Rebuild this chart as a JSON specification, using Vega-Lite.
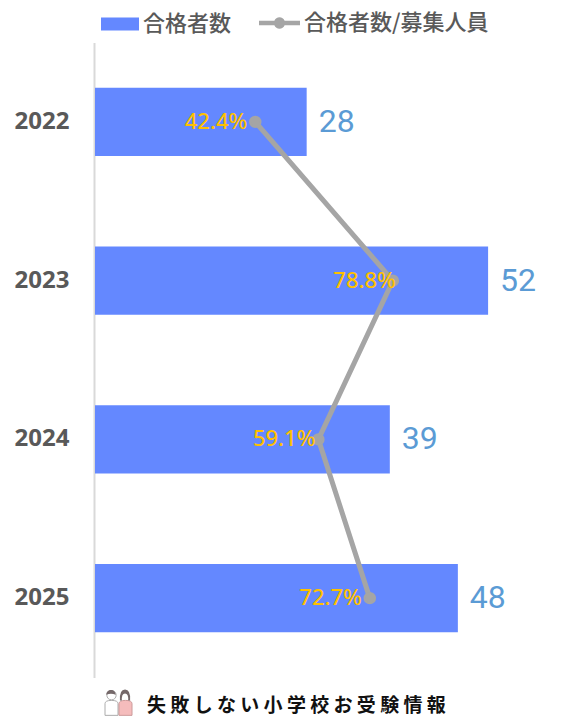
{
  "$schema": "https://vega.github.io/schema/vega-lite/v6.json",
  "width": 460,
  "height": 635,
  "autosize": {"type": "none"},
  "padding": {"left": 95, "top": 42.5, "right": 22, "bottom": 43.5},
  "background": "white",
  "config": {"view": {"stroke": null}},
  "data": {
    "values": [
      {"year": "2022", "passed": 28, "rate": 0.424},
      {"year": "2023", "passed": 52, "rate": 0.788},
      {"year": "2024", "passed": 39, "rate": 0.591},
      {"year": "2025", "passed": 48, "rate": 0.727}
    ]
  },
  "encoding": {
    "y": {
      "field": "year",
      "type": "nominal",
      "title": null,
      "scale": {"paddingInner": 0.57, "paddingOuter": 0.285},
      "axis": {
        "ticks": false,
        "grid": false,
        "offset": 1,
        "domainColor": "#D9D9D9",
        "domainWidth": 2,
        "labelColor": "#595959",
        "labelFont": "Noto Sans",
        "labelFontSize": 24,
        "labelFontWeight": "bold",
        "labelPadding": 25
      }
    }
  },
  "layer": [
    {
      "transform": [{"calculate": "'合格者数'", "as": "barName"}],
      "mark": {"type": "bar"},
      "encoding": {
        "x": {"field": "passed", "type": "quantitative", "axis": null, "scale": {"domain": [0, 60.85], "nice": false}},
        "color": {
          "field": "barName",
          "type": "nominal",
          "scale": {"domain": ["合格者数"], "range": ["#6488FF"]},
          "legend": {
            "title": null,
            "orient": "none",
            "legendX": 5,
            "legendY": -38.5,
            "symbolType": "M-1,-0.34H1V0.34H-1Z",
            "symbolSize": 1444,
            "labelOffset": 3,
            "labelLimit": 300,
            "labelFont": "Noto Sans CJK JP",
            "labelFontSize": 22,
            "labelColor": "#595959",
            "labelFontWeight": 500
          }
        }
      }
    },
    {
      "mark": {"type": "text", "align": "left", "dx": 12, "font": "Roboto", "fontSize": 32, "color": "#5B9BD5"},
      "encoding": {
        "x": {"field": "passed", "type": "quantitative", "axis": null, "scale": {"domain": [0, 60.85], "nice": false}},
        "text": {"field": "passed", "type": "quantitative"}
      }
    },
    {
      "layer": [
        {
          "transform": [{"calculate": "'合格者数/募集人員'", "as": "lineName"}],
          "mark": {"type": "line", "strokeWidth": 5, "strokeCap": "round", "point": {"filled": true, "size": 110, "color": "#A5A5A5"}},
          "encoding": {
            "x": {"field": "rate", "type": "quantitative", "axis": null, "scale": {"domain": [0, 1.217], "nice": false}},
            "order": {"field": "year"},
            "stroke": {
              "field": "lineName",
              "type": "nominal",
              "scale": {"domain": ["合格者数/募集人員"], "range": ["#A5A5A5"]},
              "legend": {
                "title": null,
                "orient": "none",
                "legendX": 164,
                "legendY": -40,
                "symbolType": "M-1,-0.11H-0.25A0.27,0.27 0 0 1 0.25,-0.11H1V0.11H0.25A0.27,0.27 0 0 1 -0.25,0.11H-1Z",
                "symbolSize": 1681,
                "symbolFillColor": "#A5A5A5",
                "symbolStrokeWidth": 0,
                "labelOffset": 4,
                "labelLimit": 300,
                "labelFont": "Noto Sans CJK JP",
                "labelFontSize": 22,
                "labelColor": "#595959",
                "labelFontWeight": 500
              }
            }
          }
        },
        {
          "transform": [{"filter": "datum.year == '2022' || datum.year == '2025'"}],
          "mark": {"type": "text", "align": "right", "dx": -8, "font": "Noto Sans", "fontSize": 22, "fontWeight": 500, "color": "#FFC000"},
          "encoding": {
            "x": {"field": "rate", "type": "quantitative", "axis": null, "scale": {"domain": [0, 1.217], "nice": false}},
            "text": {"field": "rate", "type": "quantitative", "format": ".1%"}
          }
        },
        {
          "transform": [{"filter": "datum.year == '2023'"}],
          "mark": {"type": "text", "align": "right", "dx": 3, "font": "Noto Sans", "fontSize": 22, "fontWeight": 500, "color": "#FFC000"},
          "encoding": {
            "x": {"field": "rate", "type": "quantitative", "axis": null, "scale": {"domain": [0, 1.217], "nice": false}},
            "text": {"field": "rate", "type": "quantitative", "format": ".1%"}
          }
        },
        {
          "transform": [{"filter": "datum.year == '2024'"}],
          "mark": {"type": "text", "align": "right", "dx": -3, "font": "Noto Sans", "fontSize": 22, "fontWeight": 500, "color": "#FFC000"},
          "encoding": {
            "x": {"field": "rate", "type": "quantitative", "axis": null, "scale": {"domain": [0, 1.217], "nice": false}},
            "text": {"field": "rate", "type": "quantitative", "format": ".1%"}
          }
        }
      ]
    },
    {
      "transform": [
        {"filter": "false"},
        {"calculate": "'man'", "as": "man"},
        {"calculate": "'woman'", "as": "woman"},
        {"calculate": "'hair'", "as": "hair"}
      ],
      "mark": {"type": "point", "filled": true},
      "encoding": {
        "shape": {
          "field": "man",
          "type": "nominal",
          "scale": {"domain": ["man"], "range": ["M-0.36,-0.6A0.36,0.36 0 1 1 0.36,-0.6A0.36,0.36 0 1 1 -0.36,-0.6ZM-0.5,0.95V0.05Q-0.5,-0.2 0,-0.2Q0.5,-0.2 0.5,0.05V0.95Z"]},
          "legend": {
            "title": null,
            "orient": "none",
            "legendX": 3,
            "legendY": 647,
            "symbolSize": 676,
            "symbolFillColor": "#FFFFFF",
            "symbolStrokeColor": "#8A8A8A",
            "symbolStrokeWidth": 1,
            "labelExpr": "''"
          }
        },
        "fill": {
          "field": "woman",
          "type": "nominal",
          "scale": {"domain": ["woman"], "range": ["#F2A0A0"]},
          "legend": {
            "title": null,
            "orient": "none",
            "legendX": 17,
            "legendY": 647,
            "symbolType": "M-0.5,0.95V0.05Q-0.5,-0.2 0,-0.2Q0.5,-0.2 0.5,0.05V0.95Z",
            "symbolSize": 676,
            "symbolFillColor": "#F2A0A0",
            "symbolStrokeColor": "#B87070",
            "symbolStrokeWidth": 1,
            "labelExpr": "''"
          }
        },
        "opacity": {
          "field": "hair",
          "type": "nominal",
          "scale": {"domain": ["hair"], "range": [1]},
          "legend": {
            "title": null,
            "orient": "none",
            "legendX": 10,
            "legendY": 647,
            "symbolType": "M-0.9,-0.6A0.36,0.36 0 0 1 -0.18,-0.6Q-0.54,-0.75 -0.9,-0.6ZM0.15,-0.15Q0.1,-1 0.54,-1Q0.98,-1 0.93,-0.15L0.78,-0.15Q0.82,-0.7 0.54,-0.7Q0.26,-0.7 0.3,-0.15Z",
            "symbolSize": 676,
            "symbolFillColor": "#75696A",
            "symbolStrokeColor": "#75696A",
            "symbolStrokeWidth": 0,
            "labelExpr": "''"
          }
        }
      }
    }
  ],
  "resolve": {"scale": {"x": "independent"}},
  "title": {
    "text": "失 敗 し な い 小 学 校 お 受 験 情 報",
    "orient": "bottom",
    "anchor": "start",
    "frame": "group",
    "offset": -21,
    "dx": 52,
    "font": "Noto Sans CJK JP",
    "fontSize": 19,
    "fontWeight": "bold",
    "color": "#111111"
  }
}
